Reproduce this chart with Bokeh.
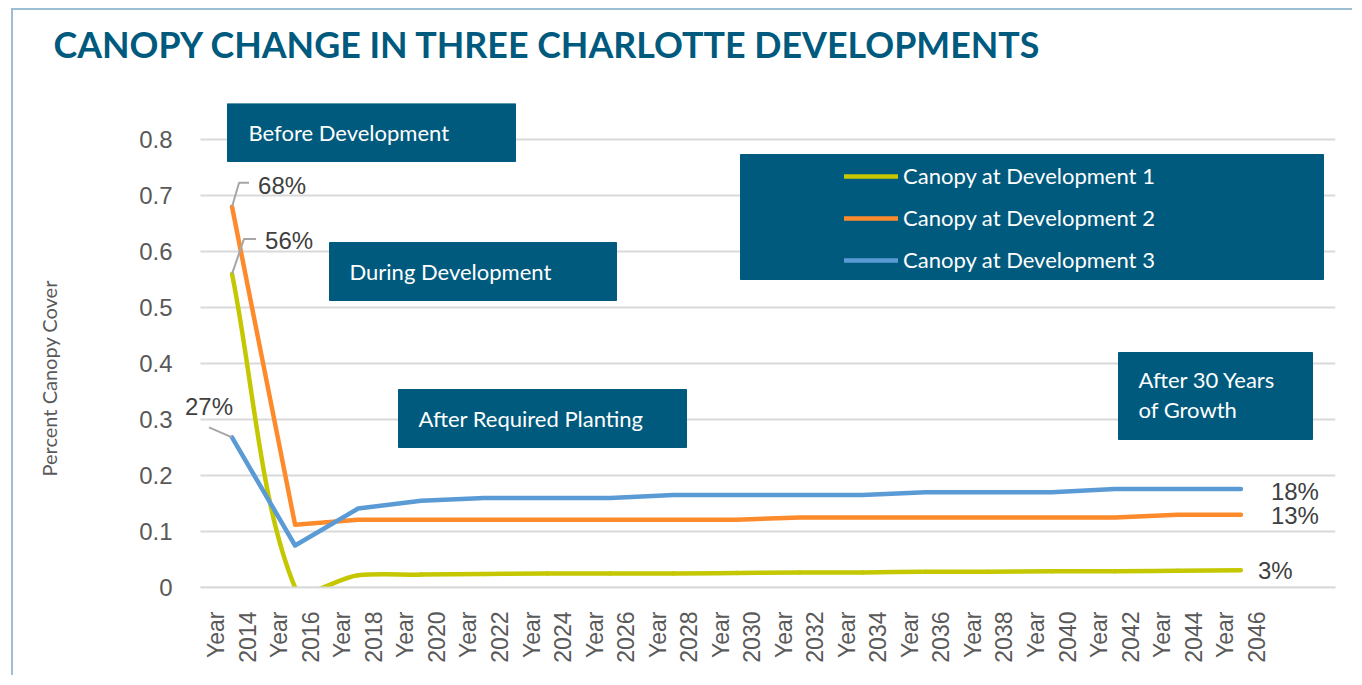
import math
from bokeh.plotting import figure
from bokeh.models import Range1d, FixedTicker, Label, BoxAnnotation, Legend, LegendItem, Title
from bokeh.embed import file_html
from bokeh.resources import INLINE

# ---------------- data ----------------
years = [2014, 2016, 2018, 2020, 2022, 2024, 2026, 2028, 2030,
         2032, 2034, 2036, 2038, 2040, 2042, 2044, 2046]
dev1 = [0.56, 0.0, 0.022, 0.023, 0.024, 0.025, 0.025, 0.025, 0.026,
        0.027, 0.027, 0.028, 0.028, 0.029, 0.029, 0.030, 0.031]
dev2 = [0.68, 0.112, 0.121, 0.121, 0.121, 0.121, 0.121, 0.121, 0.121,
        0.125, 0.125, 0.125, 0.125, 0.125, 0.125, 0.130, 0.130]
dev3 = [0.268, 0.075, 0.141, 0.155, 0.160, 0.160, 0.160, 0.165, 0.165,
        0.165, 0.165, 0.170, 0.170, 0.170, 0.176, 0.176, 0.176]
series_names = ["Canopy at Development 1", "Canopy at Development 2", "Canopy at Development 3"]
series_colors = ["#C5C800", "#FD8B2C", "#5B9BD5"]
y_ticks = [0, 0.1, 0.2, 0.3, 0.4, 0.5, 0.6, 0.7, 0.8]
y_tick_labels = ["0", "0.1", "0.2", "0.3", "0.4", "0.5", "0.6", "0.7", "0.8"]
title_text = "CANOPY CHANGE IN THREE CHARLOTTE DEVELOPMENTS"
y_title = "Percent Canopy Cover"

TEAL = "#005A7E"
GRID = "#D9D9D9"

# ---------------- layout (page pixels) ----------------
CANVAS_X, CANVAS_Y = 13, 10
W, H = 1341, 667
PLOT_L = 200                     # where the gridlines start
FRAME_L, FRAME_R, FRAME_T, FRAME_B = 180, 1335, 103, 587
NSLOT = len(years) + 1
XS = (FRAME_R - PLOT_L) / NSLOT  # px per category
X_START = -0.5 - (PLOT_L - FRAME_L) / XS
X_END = X_START + (FRAME_R - FRAME_L) / XS
YS = 560.0                       # px per y unit
Y_END = (FRAME_B - FRAME_T) / YS


def dx(px):
    return X_START + (px - FRAME_L) / XS


def dy(py):
    return (FRAME_B - py) / YS


idx = list(range(len(years)))

p = figure(width=W, height=H, output_backend="svg", toolbar_location=None,
           x_range=Range1d(X_START, X_END), y_range=Range1d(0, Y_END),
           min_border_left=FRAME_L - CANVAS_X, min_border_right=CANVAS_X + W - FRAME_R,
           min_border_top=FRAME_T - CANVAS_Y, min_border_bottom=CANVAS_Y + H - FRAME_B)
p.styles = {"margin-left": "11px", "margin-top": "8px",
            "border-left": "2px solid #9DBDD1", "border-top": "2px solid #9DBDD1"}
p.outline_line_color = None
p.background_fill_color = "white"
p.border_fill_color = "white"

# title: a spacer next to the frame, then the title itself further out
p.add_layout(Title(text=" ", text_font_size="10px", standoff=25), "above")
p.add_layout(Title(text=title_text, align="left", offset=53 - FRAME_L, standoff=0,
                   text_font="Lato", text_font_style="bold", text_font_size="35.8px",
                   text_color=TEAL), "above")

# grid lines (start at the plot area's left edge)
p.xgrid.visible = False
p.ygrid.visible = False
p.segment(x0=[dx(PLOT_L)] * len(y_ticks), x1=[X_END] * len(y_ticks), y0=y_ticks, y1=y_ticks,
          line_color=GRID, line_width=2)

p.yaxis.ticker = FixedTicker(ticks=y_ticks)
p.yaxis.major_label_overrides = {t: s for t, s in zip(y_ticks, y_tick_labels)}
p.yaxis.axis_line_color = None
p.yaxis.major_tick_line_color = None
p.yaxis.minor_tick_line_color = None
p.yaxis.major_label_standoff = 2
p.yaxis.major_label_text_font = "Liberation Sans"
p.yaxis.major_label_text_font_size = "24px"
p.yaxis.major_label_text_color = "#595959"

# y title (left side panel): spacer, then the title
p.add_layout(Title(text=" ", text_font_size="10px", standoff=63), "left")
p.add_layout(Title(text=y_title, align="left", offset=FRAME_B - 476, standoff=0,
                   text_font="Lato", text_font_size="20px", text_font_style="normal",
                   text_color="#595959"), "left")

x_ticks, x_overrides = [], {}
for i, yr in zip(idx, years):
    x_ticks += [i - 0.25, i + 0.25]
    x_overrides[i - 0.25] = "Year"
    x_overrides[i + 0.25] = str(yr)
p.xaxis.ticker = FixedTicker(ticks=x_ticks)
p.xaxis.major_label_overrides = x_overrides
p.xaxis.bounds = (dx(PLOT_L), X_END)
p.xaxis.major_label_orientation = math.pi / 2
p.xaxis.axis_line_color = GRID
p.xaxis.axis_line_width = 2
p.xaxis.major_tick_line_color = None
p.xaxis.minor_tick_line_color = None
p.xaxis.major_label_standoff = 18
p.xaxis.major_label_text_font = "Liberation Sans"
p.xaxis.major_label_text_font_size = "23px"
p.xaxis.major_label_text_color = "#595959"


# smoothed (Excel-like) bezier segments for series 1
def smooth(xs, ys):
    P = [(x * XS, y * YS) for x, y in zip(xs, ys)]
    n = len(P)
    d = [math.hypot(P[i + 1][0] - P[i][0], P[i + 1][1] - P[i][1]) for i in range(n - 1)]
    out = {k: [] for k in ("x0", "y0", "x1", "y1", "cx0", "cy0", "cx1", "cy1")}
    for i in range(n - 1):
        pp = P[i - 1] if i > 0 else P[i]
        pn = P[i + 2] if i + 2 < n else P[i + 1]
        dp = d[i - 1] if i > 0 else 0.0
        dn = d[i + 1] if i + 1 < n - 1 else 0.0
        f1 = d[i] / (dp + d[i]) / 3.0
        f2 = d[i] / (d[i] + dn) / 3.0
        c1 = (P[i][0] + (P[i + 1][0] - pp[0]) * f1, P[i][1] + (P[i + 1][1] - pp[1]) * f1)
        c2 = (P[i + 1][0] - (pn[0] - P[i][0]) * f2, P[i + 1][1] - (pn[1] - P[i][1]) * f2)
        out["x0"].append(P[i][0] / XS); out["y0"].append(P[i][1] / YS)
        out["x1"].append(P[i + 1][0] / XS); out["y1"].append(P[i + 1][1] / YS)
        out["cx0"].append(c1[0] / XS); out["cy0"].append(c1[1] / YS)
        out["cx1"].append(c2[0] / XS); out["cy1"].append(c2[1] / YS)
    return out


LW = 4.5
b = smooth(idx, dev1)
r1 = p.bezier(x0=b["x0"], y0=b["y0"], x1=b["x1"], y1=b["y1"], cx0=b["cx0"], cy0=b["cy0"],
              cx1=b["cx1"], cy1=b["cy1"], line_color=series_colors[0], line_width=LW,
              line_cap="round")
r2 = p.line(idx, dev2, line_color=series_colors[1], line_width=LW, line_cap="round", line_join="round")
r3 = p.line(idx, dev3, line_color=series_colors[2], line_width=LW, line_cap="round", line_join="round")

# leader lines for first-point labels (pixel offsets from the data point)
LEAD = "#A6A6A6"
first = [(dev2[0], [(0, 0), (7, -24), (17, -24)], (26, -21), "left"),
         (dev1[0], [(0, 0), (12, -35), (24, -35)], (33, -33), "left"),
         (dev3[0], [(0, 0), (-23, -10)], (-23, -31), "center")]
for v, path, (ox, oy), al in first:
    xs = [idx[0] + px / XS for px, _ in path]
    ys = [v - py / YS for _, py in path]
    p.line(xs, ys, line_color=LEAD, line_width=2)

# boxes
boxes = [(227, 515, 103, 161), (329, 616, 242, 300), (398, 686, 389, 447),
         (740, 1323, 154, 279), (1118, 1312, 352, 439)]
for l, r, t, bt in boxes:
    p.add_layout(BoxAnnotation(left=dx(l), right=dx(r), top=dy(t), bottom=dy(bt),
                               fill_color=TEAL, fill_alpha=1.0, line_color=TEAL, line_alpha=1.0,
                               level="annotation"))

BOXFONT = "Lato"
box_texts = [("Before Development", 248, 132), ("During Development", 349, 271),
             ("After Required Planting", 418, 418), ("After 30 Years", 1138, 379),
             ("of Growth", 1138, 409)]
for txt, px, py in box_texts:
    p.add_layout(Label(x=dx(px), y=dy(py), text=txt, text_color="white",
                       text_font=BOXFONT, text_font_size="22px",
                       text_baseline="middle", text_align="left"))

# data labels
def pct(v):
    return f"{int(round(v * 100))}%"

for v, path, (ox, oy), al in first:
    p.add_layout(Label(x=idx[0] + ox / XS, y=v - oy / YS, text=pct(v), text_align=al,
                       text_baseline="middle", text_font="Liberation Sans",
                       text_font_size="24px", text_color="#404040"))
last = [(dev3[-1], 30, 3), (dev2[-1], 30, 1), (dev1[-1], 17, 0)]
for v, ox, oy in last:
    p.add_layout(Label(x=idx[-1] + ox / XS, y=v - oy / YS, text=pct(v), text_align="left",
                       text_baseline="middle", text_font="Liberation Sans",
                       text_font_size="24px", text_color="#404040"))

# legend
legend = Legend(items=[LegendItem(label=series_names[0], renderers=[r1]),
                       LegendItem(label=series_names[1], renderers=[r2]),
                       LegendItem(label=series_names[2], renderers=[r3])],
                location=(844 - FRAME_L, FRAME_B - 273), orientation="vertical",
                background_fill_alpha=0, border_line_color=None,
                label_text_color="white", label_text_font=BOXFONT, label_text_font_size="22px",
                glyph_width=54, glyph_height=26, label_height=26, spacing=15,
                padding=0, margin=0, label_standoff=5)
p.add_layout(legend, "center")

open("out.html", "w").write(file_html(p, INLINE))
